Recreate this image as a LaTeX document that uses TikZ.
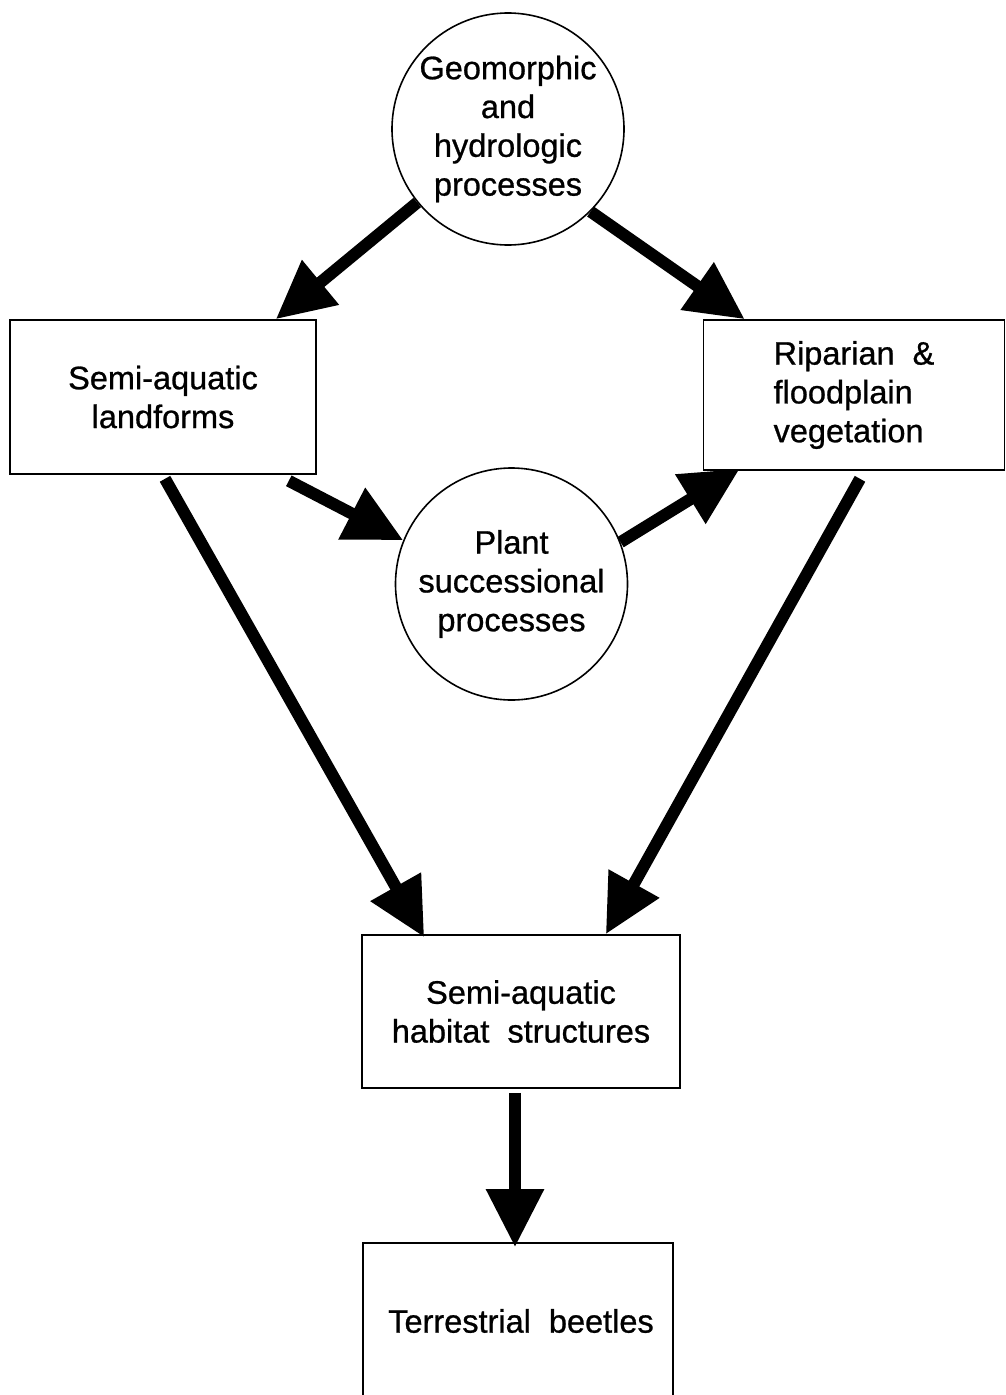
\documentclass[tikz,border=0pt]{standalone}
\usepackage{fontspec}
\setmainfont{Liberation Sans}[FakeBold=0.8]
\usetikzlibrary{arrows.meta}
\begin{document}
\begin{tikzpicture}[x=1pt,y=-1pt,
  every node/.style={font=\fontsize{32.5}{38.8}\selectfont},
  proc/.style={draw,circle,line width=1.6pt,inner sep=0pt,minimum size=232pt,align=center},
  boxnode/.style={draw,rectangle,line width=1.6pt,inner sep=0pt,align=center},
  flow/.style={line width=12pt,-{Triangle[width=55pt,length=58pt]}}]
\useasboundingbox (0,0) rectangle (1005,1395);
\node[proc] (G) at (508,129) {Geomorphic\\and\\hydrologic\\processes};
\node[boxnode,minimum width=306pt,minimum height=154pt] (L) at (163,397) {Semi-aquatic\\landforms};
\node[boxnode,minimum width=301pt,minimum height=150pt,align=left] (R) at (854,395) {Riparian \ \&\\floodplain\\vegetation};
\node[proc] (P) at (511.5,584) {Plant\\successional\\processes};
\node[boxnode,minimum width=318pt,minimum height=153pt] (H) at (521,1011.5) {Semi-aquatic\\habitat \ structures};
\node[boxnode,minimum width=310pt,minimum height=170pt] (B) at (518,1328) {};
\node (BT) at (521,1321) {Terrestrial \ beetles};
\draw[flow] (G.219) -- ([xshift=-41pt]L.north east);
\draw[flow] (G.315) -- ([xshift=42pt]R.north west);
\draw[flow] ([xshift=-28pt,yshift=-6pt]L.south east) -- (P.158);
\draw[flow] (P.21) -- ([xshift=37pt,yshift=2pt]R.south west);
\draw[flow] ([xshift=2pt,yshift=-4pt]L.south) -- ([xshift=63pt,yshift=-3pt]H.north west);
\draw[flow] ([xshift=6pt,yshift=-8pt]R.south) -- ([xshift=-75pt]H.north east);
\draw[flow] ([xshift=-6pt,yshift=-4pt]H.south) -- ([xshift=-3pt,yshift=-5pt]B.north);
\end{tikzpicture}
\end{document}
